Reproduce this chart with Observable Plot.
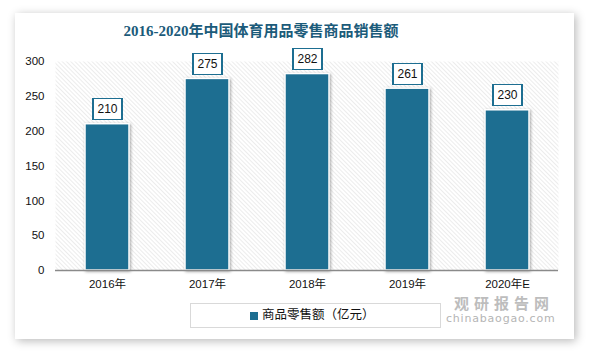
<!DOCTYPE html>
<html>
<head>
<meta charset="utf-8">
<script src="https://cdn.jsdelivr.net/npm/d3@7"></script>
<script src="https://cdn.jsdelivr.net/npm/@observablehq/plot@0.6"></script>
<style>
  html, body { margin: 0; padding: 0; background: #fff; }
  #wrap { position: relative; width: 589px; height: 351px; overflow: hidden; font-family: "Liberation Sans", "Noto Sans CJK SC", sans-serif; }
  #card { position: absolute; left: 15px; top: 13px; width: 559px; height: 326px; background: #fff; box-shadow: 2px 2px 9px rgba(0,0,0,0.28); }
  #title { position: absolute; left: 0; top: 24px; width: 522px; text-align: center; font-family: "Liberation Serif", "Noto Sans CJK SC", serif; font-weight: bold; font-size: 15px; line-height: 1; color: #1b5b7a; white-space: nowrap; }
  #chart { position: absolute; left: 0; top: 0; }
  #legend { position: absolute; left: 190px; top: 303px; width: 251px; height: 25px; border: 1px solid #d9d9d9; box-sizing: border-box; }
  #legend .sw { position: absolute; left: 59px; top: 8px; width: 8px; height: 8px; background: #1d6e91; }
  #legend .lb { position: absolute; left: 71px; top: 4px; font-size: 12.5px; color: #111; font-family: "Noto Sans CJK SC", sans-serif; line-height: 1; white-space: nowrap; }
  #wm1 { position: absolute; left: 454px; top: 295px; font-size: 15px; line-height: 1; letter-spacing: 5px; font-weight: bold; color: #bdbdbd; font-family: "Noto Sans CJK SC", sans-serif; white-space: nowrap; }
  #wm2 { position: absolute; left: 446px; top: 313px; font-size: 11px; line-height: 1; color: #b5b5b5; font-family: "DejaVu Sans", sans-serif; letter-spacing: 0.8px; white-space: nowrap; }
</style>
</head>
<body>
<div id="wrap">
  <div id="card"></div>
  <div id="chart"></div>
  <div id="title">2016-2020年中国体育用品零售商品销售额</div>
  <div id="legend"><div class="sw"></div><div class="lb">商品零售额（亿元）</div></div>
  <div id="wm1">观研报告网</div>
  <div id="wm2">chinabaogao.com</div>
</div>
<script>
const years = ["2016年", "2017年", "2018年", "2019年", "2020年E"];
const sales = [210, 275, 282, 261, 230];
const yTicks = [0, 50, 100, 150, 200, 250, 300];

const data = years.map((y, i) => ({year: y, value: sales[i]}));
const teal = "#1d6e91";

const boxSymbol = {
  draw(context) {
    context.moveTo(-14.5, -10.5);
    context.lineTo(14.5, -10.5);
    context.lineTo(14.5, 10.5);
    context.lineTo(-14.5, 10.5);
    context.closePath();
  }
};

const svg = Plot.plot({
  width: 589,
  height: 351,
  marginLeft: 55,
  marginRight: 31,
  marginTop: 61,
  marginBottom: 81,
  style: {background: "transparent", fontFamily: "Liberation Sans, Noto Sans CJK SC, sans-serif", fontSize: "11.5px", color: "#111"},
  x: {domain: years, paddingInner: 0.56, paddingOuter: 0.28, label: null, tickSize: 0, tickPadding: 9},
  y: {domain: [0, 300], ticks: yTicks, label: null, tickSize: 0, tickPadding: 11},
  marks: [
    Plot.frame({fill: "url(#hatch)", stroke: "none"}),
    Plot.barY(data, {x: "year", y: "value", fill: teal, stroke: "white", strokeWidth: 1.5}),
    Plot.ruleY([0], {stroke: "#8a8a8a", strokeWidth: 1.5}),
    Plot.dot(data, {x: "year", y: "value", dy: -15, symbol: boxSymbol, r: 5, fill: "white", stroke: teal, strokeWidth: 1.2}),
    Plot.text(data, {x: "year", y: "value", dy: -15, text: d => String(d.value), fill: "#111", fontSize: 12})
  ]
});

const ns = "http://www.w3.org/2000/svg";
const defs = document.createElementNS(ns, "defs");
defs.innerHTML = `<pattern id="hatch" patternUnits="userSpaceOnUse" width="3" height="3" patternTransform="rotate(-45)">
  <line x1="0" y1="0" x2="0" y2="3" stroke="#d6d6d6" stroke-width="0.9"/></pattern>`;
svg.insertBefore(defs, svg.firstChild);
d3.select(svg).selectAll('g[aria-label="bar"]').style("filter", "drop-shadow(1px 1px 1.5px rgba(0,0,0,0.35))");
d3.select(svg).selectAll('g[aria-label="dot"] path').attr("shape-rendering", "crispEdges");
document.getElementById("chart").appendChild(svg);
</script>
</body>
</html>
